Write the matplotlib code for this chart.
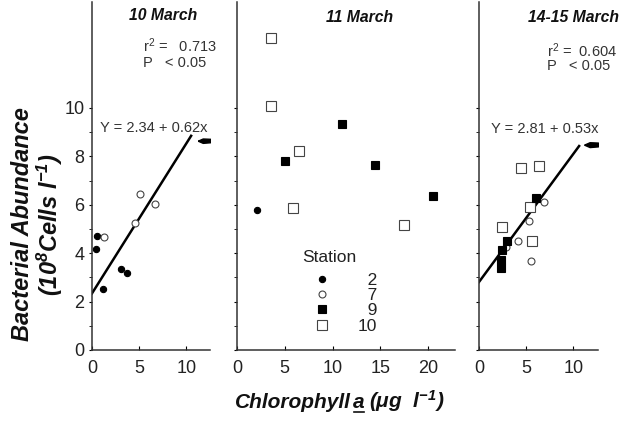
import matplotlib.pyplot as plt
from matplotlib.lines import Line2D
from matplotlib.path import Path

plt.rcParams['font.family'] = 'Liberation Sans'
plt.rcParams['axes.edgecolor'] = '#333333'

W, H = 634, 421

# 10 March
d10_st2_x = [0.5, 0.45, 3.1, 3.7, 1.15]
d10_st2_y = [4.72, 4.17, 3.36, 3.17, 2.52]
d10_st7_x = [1.25, 4.6, 5.05, 6.7]
d10_st7_y = [4.68, 5.23, 6.43, 6.03]
d10_off_x = [11.85]
d10_off_y = [8.64]
d10_fit = (2.34, 0.62)
d10_fit_end = 10.5
d10_r2 = '0.713'

# 11 March
d11_st2_x = [2.1]
d11_st2_y = [5.77]
d11_st9_x = [5.0, 10.95, 14.4, 20.45]
d11_st9_y = [7.82, 9.34, 7.63, 6.38]
d11_st10_x = [3.6, 3.55, 6.5, 5.85, 17.5]
d11_st10_y = [12.9, 10.1, 8.24, 5.87, 5.15]

# 14-15 March
d14_st7_x = [6.9, 5.25, 4.18, 2.84, 5.5]
d14_st7_y = [6.13, 5.34, 4.52, 4.26, 3.68]
d14_st9_x = [6.03, 3.0, 2.41, 2.34, 2.3]
d14_st9_y = [6.27, 4.52, 4.13, 3.72, 3.38]
d14_st10_x = [4.43, 6.3, 5.4, 2.48, 5.6]
d14_st10_y = [7.5, 7.6, 5.92, 5.07, 4.52]
d14_off_x = [11.9]
d14_off_y = [8.47]
d14_fit = (2.81, 0.53)
d14_fit_end = 10.6
d14_r2 = '0.604'

stations = ['2', '7', '9', '10']

# marker styles per station
sty = {
    '2': dict(marker='o', ms=4.5, mfc='black', mec='black', mew=0.8),
    '7': dict(marker='o', ms=5, mfc='white', mec='#444444', mew=0.8),
    '9': dict(marker='s', ms=5.5, mfc='black', mec='black', mew=0.8),
    '10': dict(marker='s', ms=6.5, mfc='white', mec='#444444', mew=0.8),
}
arrow = Path([(-1, 0.05), (-0.2, 0.4), (1, 0.35), (1, -0.2), (-0.2, -0.3), (-1, 0.05)])


def fx(px):
    return px / W


def fy(py):
    return 1 - py / H


fig = plt.figure(figsize=(W / 100, H / 100), dpi=100)
fig.patch.set_facecolor('white')

bottom, top = 350, 2
ax1 = fig.add_axes([fx(92), fy(bottom), fx(210) - fx(92), fy(top) - fy(bottom)])
ax2 = fig.add_axes([fx(237), fy(bottom), fx(455) - fx(237), fy(top) - fy(bottom)])
ax3 = fig.add_axes([fx(479), fy(bottom), fx(598) - fx(479), fy(top) - fy(bottom)])

for ax, xmax, xt in [(ax1, 12.5, [0, 5, 10]), (ax2, 22.8, [0, 5, 10, 15, 20]),
                     (ax3, 12.6, [0, 5, 10])]:
    ax.set_xlim(0, xmax)
    ax.set_ylim(0, 14.38)
    ax.spines['top'].set_visible(False)
    ax.spines['right'].set_visible(False)
    ax.spines['left'].set_linewidth(1.1)
    ax.spines['bottom'].set_linewidth(1.1)
    ax.set_xticks(xt)
    ax.set_yticks([0, 2, 4, 6, 8, 10])
    ax.set_yticks([1, 3, 5, 7, 9], minor=True)
    ax.tick_params(axis='x', direction='in', length=3, pad=7, labelsize=13,
                   labelcolor='#222222')
    ax.tick_params(axis='y', which='both', direction='out', length=2.5,
                   labelsize=13, labelcolor='#222222', pad=3)
    if ax is not ax1:
        ax.tick_params(axis='y', which='both', labelleft=False)


def fit_line(ax, fit, xend):
    a, b = fit
    xs = [0, xend]
    ax.plot(xs, [a + b * x for x in xs], color='black', lw=1.8, zorder=2)


# 10 March
ax1.plot(d10_st2_x, d10_st2_y, ls='none', zorder=3, **sty['2'])
ax1.plot(d10_st7_x, d10_st7_y, ls='none', zorder=3, **sty['7'])
ax1.plot(d10_off_x, d10_off_y, ls='none', marker=arrow, ms=9, color='black')
fit_line(ax1, d10_fit, d10_fit_end)

# 11 March
ax2.plot(d11_st10_x, d11_st10_y, ls='none', zorder=3, **sty['10'])
ax2.plot(d11_st9_x, d11_st9_y, ls='none', zorder=3, **sty['9'])
ax2.plot(d11_st2_x, d11_st2_y, ls='none', zorder=3, **sty['2'])

# 14-15 March
fit_line(ax3, d14_fit, d14_fit_end)
ax3.plot(d14_st10_x, d14_st10_y, ls='none', zorder=3, **sty['10'])
ax3.plot(d14_st7_x, d14_st7_y, ls='none', zorder=3, **sty['7'])
ax3.plot(d14_st9_x, d14_st9_y, ls='none', zorder=3, **sty['9'])
ax3.plot(d14_off_x, d14_off_y, ls='none', marker=arrow, ms=10, color='black')

# panel titles
title_kw = dict(fontsize=11.3, fontweight='bold', fontstyle='italic',
                ha='center', va='center', color='#111111')
fig.text(fx(163), fy(15), '10 March', **title_kw)
fig.text(fx(360), fy(18), '11 March', **title_kw)
fig.text(fx(573), fy(17), '14-15 March', **title_kw)

# regression statistics
stat_kw = dict(fontsize=10.5, color='#333333', va='center', ha='left')
fig.text(fx(143), fy(46), 'r$\\mathregular{^2}$ =   ' + d10_r2, **stat_kw)
fig.text(fx(143), fy(63), 'P   < 0.05', **stat_kw)
fig.text(fx(100), fy(128), 'Y = %.2f + %.2fx' % d10_fit, **stat_kw)
fig.text(fx(547), fy(51), 'r$\\mathregular{^2}$ =  ' + d14_r2, **stat_kw)
fig.text(fx(547), fy(66), 'P   < 0.05', **stat_kw)
fig.text(fx(491), fy(129), 'Y = %.2f + %.2fx' % d14_fit, **stat_kw)

# station legend
handles = [Line2D([], [], ls='none', **sty[s]) for s in stations]
labels = [s.rjust(2, '\u2007') for s in stations]
leg = ax2.legend(handles, labels, loc='upper left',
                 bbox_to_anchor=((302 - 237) / 218, (350 - 273) / 348),
                 frameon=False, fontsize=12.5,
                 handlelength=2.3, handletextpad=0.9, labelspacing=0.0,
                 borderpad=0, borderaxespad=0)
for t in leg.get_texts():
    t.set_color('#222222')
ax2.text((302 - 237) / 218, (350 - 258) / 348, 'Station', transform=ax2.transAxes,
         fontsize=12.5, color='#222222', ha='left', va='center')

# axis labels
lab_kw = dict(fontsize=17, fontweight='bold', fontstyle='italic', color='#111111')
fig.text(fx(23), fy(224), 'Bacterial Abundance', rotation=90, ha='center',
         va='center', **lab_kw)
fig.text(fx(50), fy(225), '(10$\\mathregular{^8}$Cells l$\\mathregular{^{-1}}$)',
         rotation=90, ha='center', va='center', **lab_kw)

xlab_kw = dict(lab_kw, fontsize=15)
fig.text(fx(351), fy(408), 'Chlorophyll', ha='right', va='baseline', **xlab_kw)
fig.text(fx(359), fy(408), 'a', ha='center', va='baseline', **xlab_kw)
fig.text(fx(369), fy(408), '(μg  l$\\mathregular{^{-1}}$)', ha='left',
         va='baseline', **xlab_kw)
fig.add_artist(Line2D([fx(354), fx(364)], [fy(412), fy(412)], color='#111111',
                      lw=1.2))

fig.savefig('out.png', dpi=100)
